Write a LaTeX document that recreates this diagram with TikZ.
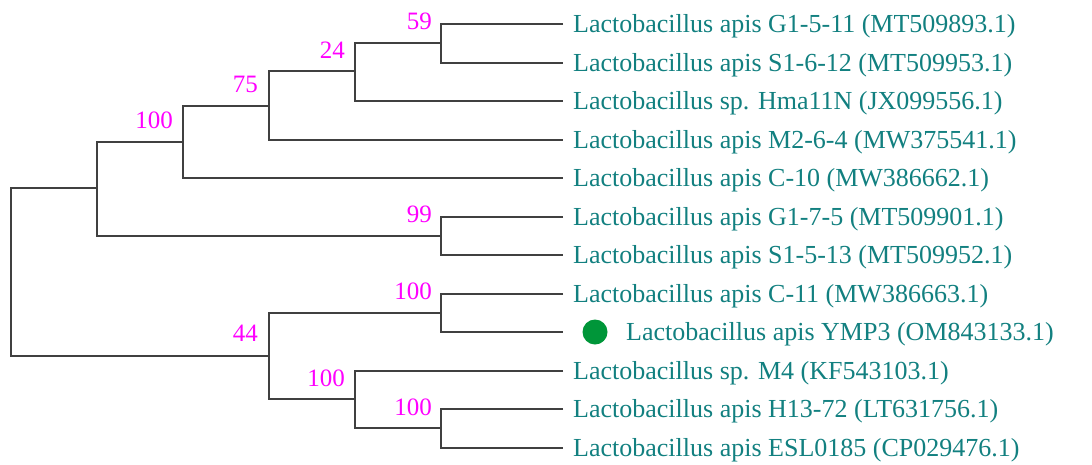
\documentclass[tikz,border=0pt]{standalone}
\usepackage{fontspec}
\setmainfont{Liberation Serif}
\definecolor{leafcol}{RGB}{18,128,128}
\definecolor{bootcol}{RGB}{255,0,255}
\definecolor{dotcol}{RGB}{0,150,57}
\definecolor{branchcol}{RGB}{64,64,64}
\tikzset{
  branch/.style={draw=branchcol, line width=2pt},
  leaflabel/.style={anchor=base west, inner sep=0pt, text=leafcol, font=\fontsize{26}{30}\selectfont},
  boot/.style={anchor=base east, inner sep=0pt, text=bootcol, font=\fontsize{25}{30}\selectfont},
  markdot/.style={circle, fill=dotcol, minimum size=25pt, inner sep=0pt}
}
\begin{document}
\begin{tikzpicture}[x=1pt,y=-1pt]
\useasboundingbox (0,0) rectangle (1092,464);
% leaf ends
\foreach \i/\y in {1/24,2/62.5,3/101,4/139.5,5/178,6/216.5,7/255,8/293.5,9/332,10/370.5,11/409,12/447.5}{
  \coordinate (l\i) at (563,\y);
}
% internal nodes
\coordinate (n59) at (441,42.7);
\coordinate (n24) at (355,71);
\coordinate (n75) at (269,106);
\coordinate (n100a) at (183,141.5);
\coordinate (n99) at (441,235.7);
\coordinate (nA) at (97,187.7);
\coordinate (nC11) at (441,312.7);
\coordinate (nH13) at (441,428.2);
\coordinate (nM4) at (355,399.4);
\coordinate (n44) at (269,355.7);
\coordinate (root) at (11,187.7);
\coordinate (rootb) at (11,355.7);
% branches
\draw[branch] (l1) -| (n59) |- (l2);
\draw[branch] (n59) -| (n24) |- (l3);
\draw[branch] (n24) -| (n75) |- (l4);
\draw[branch] (n75) -| (n100a) |- (l5);
\draw[branch] (n100a) -| (nA) |- (n99);
\draw[branch] (l6) -| (n99) |- (l7);
\draw[branch] (nA) -- (root) -- (rootb) -- (n44);
\draw[branch] (nC11) -| (n44) |- (nM4);
\draw[branch] (l8) -| (nC11) |- (l9);
\draw[branch] (l10) -| (nM4) |- (nH13);
\draw[branch] (l11) -| (nH13) |- (l12);
% bootstrap values
\node[boot] (b59) at ([xshift=-9pt,yshift=13pt]n59) {59};
\node[boot] (b24) at ([xshift=-10pt,yshift=13pt]n24) {24};
\node[boot] (b75) at ([xshift=-11pt,yshift=14pt]n75) {75};
\node[boot] (b100a) at ([xshift=-10pt,yshift=13pt]n100a) {100};
\node[boot] (b99) at ([xshift=-9pt,yshift=13pt]n99) {99};
\node[boot] (bC11) at ([xshift=-9pt,yshift=13pt]nC11) {100};
\node[boot] (b44) at ([xshift=-11pt,yshift=14pt]n44) {44};
\node[boot] (bM4) at ([xshift=-10pt,yshift=13pt]nM4) {100};
\node[boot] (bH13) at ([xshift=-9pt,yshift=13pt]nH13) {100};
% leaf labels
\node[leaflabel] (t1) at ([xshift=10pt,yshift=-8.5pt]l1) {Lactobacillus apis G1-5-11 (MT509893.1)};
\node[leaflabel] (t2) at ([xshift=10pt,yshift=-8.5pt]l2) {Lactobacillus apis S1-6-12 (MT509953.1)};
\node[leaflabel] (t3) at ([xshift=10pt,yshift=-8.5pt]l3) {Lactobacillus sp. Hma11N (JX099556.1)};
\node[leaflabel] (t4) at ([xshift=10pt,yshift=-8.5pt]l4) {Lactobacillus apis M2-6-4 (MW375541.1)};
\node[leaflabel] (t5) at ([xshift=10pt,yshift=-8.5pt]l5) {Lactobacillus apis C-10 (MW386662.1)};
\node[leaflabel] (t6) at ([xshift=10pt,yshift=-8.5pt]l6) {Lactobacillus apis G1-7-5 (MT509901.1)};
\node[leaflabel] (t7) at ([xshift=10pt,yshift=-8.5pt]l7) {Lactobacillus apis S1-5-13 (MT509952.1)};
\node[leaflabel] (t8) at ([xshift=10pt,yshift=-8.5pt]l8) {Lactobacillus apis C-11 (MW386663.1)};
\node[markdot] (dot) at ([xshift=32pt]l9) {};
\node[leaflabel] (t9) at ([xshift=63pt,yshift=-8.5pt]l9) {Lactobacillus apis YMP3 (OM843133.1)};
\node[leaflabel] (t10) at ([xshift=10pt,yshift=-8.5pt]l10) {Lactobacillus sp. M4 (KF543103.1)};
\node[leaflabel] (t11) at ([xshift=10pt,yshift=-8.5pt]l11) {Lactobacillus apis H13-72 (LT631756.1)};
\node[leaflabel] (t12) at ([xshift=10pt,yshift=-8.5pt]l12) {Lactobacillus apis ESL0185 (CP029476.1)};
\end{tikzpicture}
\end{document}
